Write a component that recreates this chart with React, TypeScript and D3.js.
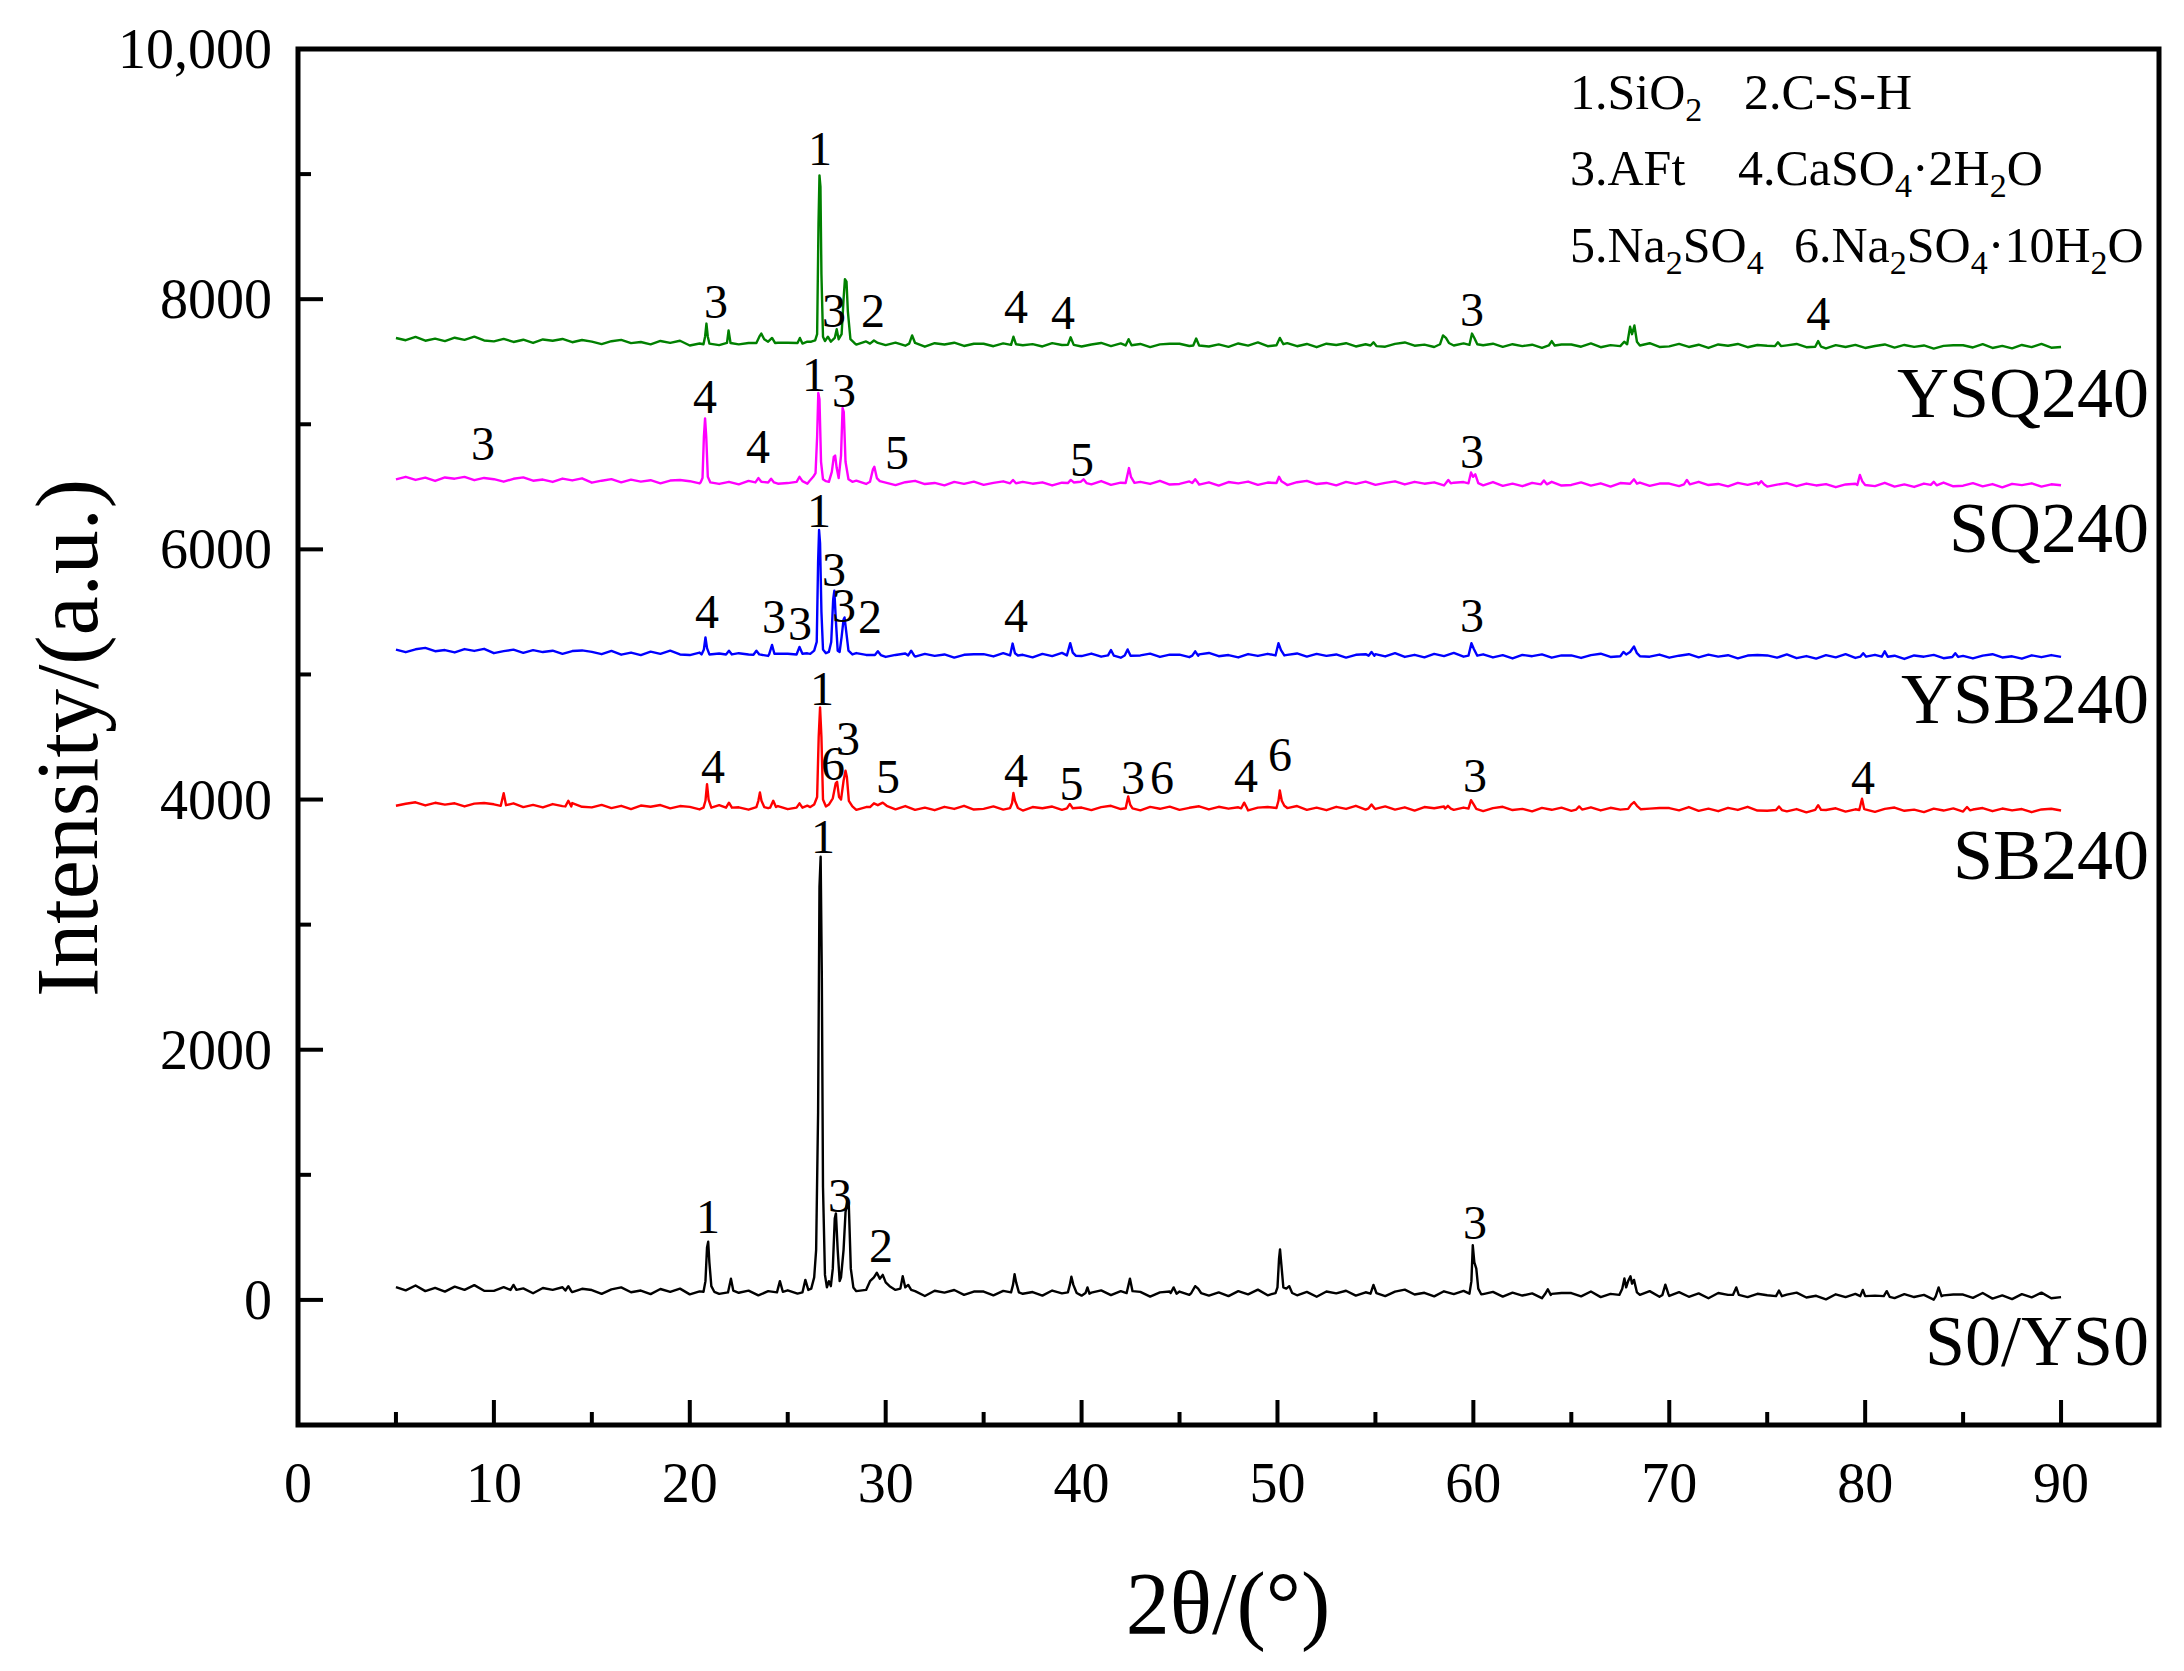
import React from "react";
import * as d3 from "d3";

const W = 2184;
const H = 1671;
const PLOT = { left: 298, right: 2159, top: 49, bottom: 1425 };
const FONT = '"Liberation Serif", "Times New Roman", Times, serif';

const X_DOMAIN = [0, 95];
const Y_DOMAIN = [-1000, 10000];
const X_MAJOR = [0, 10, 20, 30, 40, 50, 60, 70, 80, 90];
const X_MINOR = [5, 15, 25, 35, 45, 55, 65, 75, 85];
const Y_MAJOR = [0, 2000, 4000, 6000, 8000, 10000];
const Y_MINOR = [1000, 3000, 5000, 7000, 9000];

// baseline readings on a 0.5° grid from 5° to 90°
const GRID_START = 5;
const GRID_STEP = 0.5;

const ysq240Base = [
  7690, 7672, 7698, 7668, 7685, 7665, 7692, 7675, 7700, 7670,
  7663, 7683, 7658, 7676, 7650, 7678, 7668, 7682, 7656, 7674,
  7661, 7641, 7664, 7675, 7649, 7658, 7639, 7666, 7651, 7668,
  7630, 7646, 7658, 7633, 7654, 7639, 7650, 7625, 7647, 7652,
  7652, 7634, 7660, 7630, 7647, 7627, 7654, 7637, 7662, 7632,
  7633, 7653, 7628, 7646, 7620, 7648, 7638, 7652, 7626, 7644,
  7644, 7624, 7647, 7658, 7632, 7641, 7622, 7649, 7634, 7651,
  7622, 7638, 7650, 7625, 7646, 7631, 7642, 7617, 7639, 7644,
  7644, 7626, 7652, 7622, 7639, 7619, 7646, 7629, 7654, 7624,
  7629, 7649, 7624, 7642, 7616, 7644, 7634, 7648, 7622, 7640,
  7640, 7620, 7643, 7654, 7628, 7637, 7618, 7645, 7630, 7647,
  7616, 7632, 7644, 7619, 7640, 7625, 7636, 7611, 7633, 7638,
  7638, 7620, 7646, 7616, 7633, 7613, 7640, 7623, 7648, 7618,
  7623, 7643, 7618, 7636, 7610, 7638, 7628, 7642, 7616, 7634,
  7628, 7608, 7631, 7642, 7616, 7625, 7606, 7633, 7618, 7635,
  7610, 7626, 7638, 7613, 7634, 7619, 7630, 7605, 7627, 7632,
  7632, 7614, 7640, 7610, 7627, 7607, 7634, 7617, 7642, 7612,
  7618,
];
const ysq240Peaks = [
  [[20.7, 7640], [20.78, 7700], [20.85, 7805], [20.92, 7700], [21.0, 7645]],
  [[21.9, 7650], [21.98, 7750], [22.08, 7650]],
  [[23.4, 7650], [23.55, 7700], [23.65, 7725], [23.8, 7680], [24.0, 7660], [24.2, 7690], [24.35, 7650]],
  [[25.5, 7650], [25.62, 7690], [25.75, 7645]],
  [[26.2, 7660], [26.4, 7670], [26.5, 7720], [26.57, 8600], [26.62, 8990], [26.67, 8900], [26.72, 8200], [26.8, 7700], [26.9, 7665], [27.05, 7700], [27.2, 7660], [27.4, 7690], [27.5, 7760], [27.6, 7680], [27.75, 7720], [27.85, 8000], [27.92, 8160], [28.0, 8140], [28.07, 7900], [28.2, 7680], [28.4, 7650]],
  [[29.2, 7645], [29.4, 7670], [29.6, 7650]],
  [[31.2, 7645], [31.35, 7710], [31.5, 7650]],
  [[36.4, 7635], [36.52, 7700], [36.65, 7640]],
  [[39.3, 7635], [39.44, 7695], [39.6, 7635]],
  [[42.25, 7630], [42.4, 7680], [42.55, 7632]],
  [[45.7, 7630], [45.85, 7685], [46.0, 7630]],
  [[49.95, 7632], [50.12, 7690], [50.3, 7640]],
  [[54.75, 7630], [54.9, 7655], [55.05, 7625]],
  [[58.3, 7640], [58.45, 7710], [58.6, 7690], [58.75, 7650]],
  [[59.8, 7635], [59.93, 7725], [60.05, 7690], [60.2, 7640]],
  [[63.85, 7630], [64.0, 7665], [64.15, 7630]],
  [[67.5, 7625], [67.7, 7660], [67.85, 7640], [68.0, 7780], [68.1, 7720], [68.22, 7790], [68.35, 7660], [68.5, 7630]],
  [[75.4, 7625], [75.55, 7655], [75.7, 7625]],
  [[77.45, 7620], [77.6, 7665], [77.75, 7620]],
];

const sq240Base = [
  6560, 6580, 6555, 6573, 6547, 6575, 6565, 6579, 6553, 6571,
  6561, 6541, 6564, 6575, 6549, 6558, 6539, 6566, 6551, 6568,
  6533, 6549, 6561, 6536, 6557, 6542, 6553, 6528, 6550, 6555,
  6545, 6527, 6553, 6523, 6540, 6520, 6547, 6530, 6555, 6525,
  6530, 6550, 6525, 6543, 6517, 6545, 6535, 6549, 6523, 6541,
  6534, 6514, 6537, 6548, 6522, 6531, 6512, 6539, 6524, 6541,
  6516, 6532, 6544, 6519, 6540, 6525, 6536, 6511, 6533, 6538,
  6538, 6520, 6546, 6516, 6533, 6513, 6540, 6523, 6548, 6518,
  6523, 6543, 6518, 6536, 6510, 6538, 6528, 6542, 6516, 6534,
  6534, 6514, 6537, 6548, 6522, 6531, 6512, 6539, 6524, 6541,
  6516, 6532, 6544, 6519, 6540, 6525, 6536, 6511, 6533, 6538,
  6530, 6512, 6538, 6508, 6525, 6505, 6532, 6515, 6540, 6510,
  6515, 6535, 6510, 6528, 6502, 6530, 6520, 6534, 6508, 6526,
  6526, 6506, 6529, 6540, 6514, 6523, 6504, 6531, 6516, 6533,
  6502, 6518, 6530, 6505, 6526, 6511, 6522, 6497, 6519, 6524,
  6524, 6506, 6532, 6502, 6519, 6499, 6526, 6509, 6534, 6504,
  6509, 6529, 6504, 6522, 6496, 6524, 6514, 6528, 6502, 6520,
  6512,
];
const sq240Peaks = [
  [[20.55, 6535], [20.65, 6570], [20.72, 6900], [20.78, 7047], [20.84, 6900], [20.92, 6580], [21.05, 6535]],
  [[23.35, 6535], [23.5, 6570], [23.65, 6540]],
  [[24.0, 6535], [24.15, 6565], [24.3, 6535]],
  [[25.45, 6540], [25.6, 6580], [25.75, 6545]],
  [[26.1, 6545], [26.3, 6580], [26.42, 6610], [26.5, 6900], [26.56, 7250], [26.62, 7200], [26.7, 6700], [26.8, 6560], [26.95, 6545], [27.1, 6540], [27.25, 6620], [27.35, 6740], [27.42, 6750], [27.5, 6650], [27.6, 6570], [27.72, 6750], [27.8, 7130], [27.86, 7100], [27.95, 6700], [28.1, 6560], [28.3, 6540]],
  [[29.2, 6540], [29.35, 6640], [29.42, 6660], [29.55, 6570], [29.7, 6545]],
  [[36.35, 6528], [36.5, 6555], [36.65, 6528]],
  [[39.3, 6530], [39.45, 6555], [39.6, 6535], [39.95, 6540], [40.1, 6560], [40.25, 6530]],
  [[42.25, 6530], [42.35, 6600], [42.42, 6650], [42.52, 6580], [42.7, 6532]],
  [[45.65, 6530], [45.8, 6560], [45.95, 6530]],
  [[49.95, 6530], [50.08, 6580], [50.2, 6545], [50.35, 6530]],
  [[58.6, 6530], [58.72, 6555], [58.85, 6528]],
  [[59.75, 6528], [59.88, 6615], [59.98, 6580], [60.1, 6600], [60.25, 6530]],
  [[63.45, 6520], [63.6, 6550], [63.75, 6520]],
  [[68.0, 6525], [68.2, 6560], [68.35, 6525]],
  [[70.75, 6520], [70.9, 6555], [71.05, 6520]],
  [[74.55, 6520], [74.7, 6545], [74.85, 6518]],
  [[79.6, 6515], [79.73, 6595], [79.85, 6545], [80.0, 6515]],
  [[83.35, 6515], [83.5, 6540], [83.65, 6512]],
];

const ysb240Base = [
  5198, 5178, 5201, 5212, 5186, 5195, 5176, 5203, 5188, 5205,
  5170, 5186, 5198, 5173, 5194, 5179, 5190, 5165, 5187, 5192,
  5180, 5162, 5188, 5158, 5175, 5155, 5182, 5165, 5190, 5160,
  5155, 5175, 5150, 5168, 5142, 5170, 5160, 5174, 5148, 5166,
  5166, 5146, 5169, 5180, 5154, 5163, 5144, 5171, 5156, 5173,
  5140, 5156, 5168, 5143, 5164, 5149, 5160, 5135, 5157, 5162,
  5162, 5144, 5170, 5140, 5157, 5137, 5164, 5147, 5172, 5142,
  5147, 5167, 5142, 5160, 5134, 5162, 5152, 5166, 5140, 5158,
  5158, 5138, 5161, 5172, 5146, 5155, 5136, 5163, 5148, 5165,
  5140, 5156, 5168, 5143, 5164, 5149, 5160, 5135, 5157, 5162,
  5162, 5144, 5170, 5140, 5157, 5137, 5164, 5147, 5172, 5142,
  5141, 5161, 5136, 5154, 5128, 5156, 5146, 5160, 5134, 5152,
  5152, 5132, 5155, 5166, 5140, 5149, 5130, 5157, 5142, 5159,
  5134, 5150, 5162, 5137, 5158, 5143, 5154, 5129, 5151, 5156,
  5152, 5134, 5160, 5130, 5147, 5127, 5154, 5137, 5162, 5132,
  5137, 5157, 5132, 5150, 5124, 5152, 5142, 5156, 5130, 5148,
  5148, 5128, 5151, 5162, 5136, 5145, 5126, 5153, 5138, 5155,
  5140,
];
const ysb240Peaks = [
  [[20.6, 5160], [20.72, 5200], [20.8, 5296], [20.88, 5210], [21.0, 5160]],
  [[21.85, 5160], [22.0, 5190], [22.15, 5160]],
  [[23.25, 5158], [23.4, 5190], [23.55, 5160]],
  [[24.05, 5160], [24.2, 5236], [24.32, 5165]],
  [[25.45, 5160], [25.6, 5220], [25.75, 5165]],
  [[26.15, 5165], [26.35, 5190], [26.48, 5260], [26.55, 5900], [26.6, 6155], [26.65, 6050], [26.72, 5500], [26.8, 5200], [26.95, 5170], [27.1, 5180], [27.22, 5260], [27.32, 5600], [27.38, 5670], [27.45, 5450], [27.55, 5190], [27.65, 5180], [27.75, 5300], [27.85, 5440], [27.9, 5456], [27.98, 5350], [28.1, 5190], [28.3, 5160]],
  [[29.45, 5155], [29.6, 5185], [29.75, 5155]],
  [[31.15, 5152], [31.3, 5190], [31.45, 5152]],
  [[36.35, 5152], [36.48, 5247], [36.6, 5170], [36.75, 5152]],
  [[39.25, 5152], [39.42, 5250], [39.55, 5175], [39.7, 5150]],
  [[41.35, 5152], [41.5, 5195], [41.65, 5150]],
  [[42.2, 5152], [42.35, 5200], [42.5, 5150]],
  [[45.65, 5150], [45.8, 5185], [45.95, 5150]],
  [[49.9, 5152], [50.05, 5250], [50.18, 5195], [50.35, 5152]],
  [[54.65, 5150], [54.8, 5180], [54.95, 5150]],
  [[59.75, 5150], [59.9, 5250], [60.02, 5205], [60.2, 5150]],
  [[67.5, 5146], [67.66, 5180], [67.8, 5160], [68.0, 5180], [68.2, 5224], [68.35, 5170], [68.5, 5146]],
  [[79.75, 5142], [79.9, 5170], [80.05, 5142]],
  [[80.85, 5142], [81.0, 5185], [81.15, 5142]],
  [[84.45, 5140], [84.6, 5170], [84.75, 5140]],
];

const sb240Base = [
  3950, 3966, 3978, 3953, 3974, 3959, 3970, 3945, 3967, 3972,
  3962, 3944, 3970, 3940, 3957, 3937, 3964, 3947, 3972, 3942,
  3937, 3957, 3932, 3950, 3924, 3952, 3942, 3956, 3930, 3948,
  3941, 3921, 3944, 3955, 3929, 3938, 3919, 3946, 3931, 3948,
  3923, 3939, 3951, 3926, 3947, 3932, 3943, 3918, 3940, 3945,
  3940, 3922, 3948, 3918, 3935, 3915, 3942, 3925, 3950, 3920,
  3925, 3945, 3920, 3938, 3912, 3940, 3930, 3944, 3918, 3936,
  3936, 3916, 3939, 3950, 3924, 3933, 3914, 3941, 3926, 3943,
  3918, 3934, 3946, 3921, 3942, 3927, 3938, 3913, 3935, 3940,
  3940, 3922, 3948, 3918, 3935, 3915, 3942, 3925, 3950, 3920,
  3925, 3945, 3920, 3938, 3912, 3940, 3930, 3944, 3918, 3936,
  3928, 3908, 3931, 3942, 3916, 3925, 3906, 3933, 3918, 3935,
  3910, 3926, 3938, 3913, 3934, 3919, 3930, 3905, 3927, 3932,
  3932, 3914, 3940, 3910, 3927, 3907, 3934, 3917, 3942, 3912,
  3911, 3931, 3906, 3924, 3898, 3926, 3916, 3930, 3904, 3922,
  3922, 3902, 3925, 3936, 3910, 3919, 3900, 3927, 3912, 3929,
  3904, 3920, 3932, 3907, 3928, 3913, 3924, 3899, 3921, 3926,
  3912,
];
const sb240Peaks = [
  [[10.35, 3950], [10.5, 4050], [10.62, 3955]],
  [[13.65, 3945], [13.8, 3990], [13.95, 3945]],
  [[20.7, 3935], [20.8, 3990], [20.88, 4123], [20.96, 4000], [21.1, 3935]],
  [[21.85, 3935], [22.0, 3975], [22.15, 3935]],
  [[23.4, 3940], [23.5, 3990], [23.58, 4057], [23.66, 3990], [23.8, 3940]],
  [[24.1, 3935], [24.26, 3990], [24.4, 3940]],
  [[25.45, 3935], [25.6, 3970], [25.75, 3935]],
  [[26.15, 3940], [26.35, 3960], [26.5, 4020], [26.58, 4500], [26.65, 4737], [26.72, 4500], [26.8, 4000], [26.95, 3945], [27.1, 3960], [27.3, 4010], [27.45, 4130], [27.52, 4142], [27.62, 4020], [27.72, 4000], [27.85, 4150], [27.95, 4230], [28.02, 4180], [28.12, 3990], [28.3, 3945]],
  [[29.2, 3940], [29.4, 3970], [29.6, 3955], [29.85, 3975], [30.05, 3950]],
  [[36.35, 3932], [36.45, 3970], [36.52, 4052], [36.6, 3990], [36.75, 3932]],
  [[39.25, 3930], [39.4, 3965], [39.55, 3930]],
  [[42.25, 3930], [42.38, 4024], [42.48, 3960], [42.6, 3930]],
  [[48.15, 3930], [48.3, 3975], [48.45, 3930]],
  [[49.95, 3932], [50.05, 3990], [50.12, 4073], [50.22, 3990], [50.35, 3950], [50.5, 3932]],
  [[54.65, 3930], [54.8, 3960], [54.95, 3930]],
  [[58.55, 3928], [58.7, 3950], [58.85, 3928]],
  [[59.75, 3928], [59.88, 3995], [60.0, 3965], [60.15, 3925]],
  [[65.25, 3920], [65.4, 3945], [65.55, 3920]],
  [[67.9, 3925], [68.05, 3960], [68.2, 3980], [68.35, 3950], [68.55, 3922]],
  [[75.45, 3916], [75.6, 3945], [75.75, 3916]],
  [[77.45, 3918], [77.6, 3955], [77.75, 3918]],
  [[79.7, 3916], [79.84, 4007], [79.95, 3925]],
  [[85.05, 3914], [85.2, 3940], [85.35, 3914]],
];

const s0Base = [
  103, 76, 115, 70, 96, 66, 106, 80, 118, 73,
  72, 102, 65, 92, 53, 95, 80, 101, 62, 89,
  79, 49, 84, 100, 61, 75, 46, 87, 64, 90,
  44, 68, 86, 48, 80, 57, 74, 36, 70, 77,
  77, 50, 89, 44, 70, 40, 80, 54, 92, 47,
  50, 80, 43, 70, 31, 73, 58, 79, 40, 67,
  67, 37, 72, 88, 49, 63, 34, 75, 52, 78,
  34, 58, 76, 38, 70, 47, 64, 26, 60, 67,
  67, 40, 79, 34, 60, 30, 70, 44, 82, 37,
  44, 74, 37, 64, 25, 67, 52, 73, 34, 61,
  61, 31, 66, 82, 43, 57, 28, 69, 46, 72,
  22, 46, 64, 26, 58, 35, 52, 14, 48, 55,
  55, 28, 67, 22, 48, 18, 58, 32, 70, 25,
  32, 62, 25, 52, 13, 55, 40, 61, 22, 49,
  37, 7, 42, 58, 19, 33, 4, 45, 22, 48,
  10, 34, 52, 14, 46, 23, 40, 2, 36, 43,
  43, 16, 55, 10, 36, 6, 46, 20, 58, 13,
  22,
];
const s0Peaks = [
  [[10.85, 80], [11.0, 120], [11.15, 80]],
  [[13.65, 75], [13.8, 110], [13.95, 70]],
  [[20.7, 65], [20.8, 150], [20.88, 420], [20.94, 465], [21.0, 300], [21.1, 110], [21.25, 65]],
  [[21.95, 60], [22.1, 170], [22.22, 75]],
  [[24.45, 60], [24.6, 150], [24.75, 65]],
  [[25.75, 60], [25.9, 160], [26.05, 80]],
  [[26.2, 90], [26.35, 180], [26.45, 400], [26.55, 1500], [26.62, 3300], [26.68, 3543], [26.74, 2600], [26.8, 900], [26.9, 200], [27.0, 100], [27.1, 150], [27.2, 110], [27.3, 250], [27.4, 650], [27.46, 692], [27.55, 400], [27.65, 150], [27.72, 180], [27.85, 400], [27.95, 700], [28.05, 798], [28.12, 750], [28.22, 250], [28.35, 100], [28.5, 70]],
  [[29.0, 80], [29.2, 150], [29.4, 180], [29.55, 217], [29.7, 170], [29.85, 200], [30.0, 140], [30.2, 110]],
  [[30.75, 90], [30.87, 189], [31.0, 100], [31.15, 120], [31.3, 80]],
  [[36.4, 60], [36.5, 120], [36.58, 205], [36.66, 140], [36.8, 60]],
  [[39.3, 60], [39.4, 120], [39.48, 185], [39.58, 120], [39.75, 55]],
  [[40.2, 55], [40.3, 100], [40.4, 50]],
  [[42.3, 55], [42.47, 170], [42.6, 70]],
  [[44.55, 55], [44.7, 100], [44.85, 50]],
  [[45.6, 55], [45.8, 110], [45.95, 90], [46.1, 55]],
  [[49.9, 55], [50.0, 100], [50.08, 330], [50.13, 404], [50.2, 280], [50.3, 100], [50.45, 90], [50.6, 110], [50.75, 55]],
  [[54.75, 50], [54.9, 120], [55.05, 55]],
  [[59.8, 50], [59.9, 150], [59.97, 437], [60.05, 300], [60.15, 250], [60.25, 90], [60.4, 45]],
  [[63.65, 45], [63.8, 85], [63.95, 40]],
  [[67.45, 40], [67.6, 90], [67.71, 171], [67.8, 100], [67.9, 150], [68.02, 189], [68.1, 130], [68.2, 160], [68.35, 60], [68.5, 40]],
  [[69.65, 40], [69.8, 122], [69.95, 50]],
  [[73.25, 40], [73.42, 100], [73.55, 40]],
  [[75.45, 30], [75.6, 75], [75.75, 30]],
  [[79.75, 30], [79.88, 80], [80.0, 30]],
  [[80.95, 30], [81.1, 70], [81.25, 25]],
  [[83.6, 28], [83.75, 100], [83.9, 30]],
];

// peak annotations: [2θ, intensity at label baseline, text]
const ysq240Marks: [number, number, string][] = [
  [21.34, 7848, "3"], [26.65, 9071, "1"], [27.36, 7776, "3"], [29.35, 7776, "2"],
  [36.65, 7808, "4"], [39.05, 7760, "4"], [59.93, 7784, "3"], [77.6, 7752, "4"],
];
const sq240Marks: [number, number, string][] = [
  [9.44, 6713, "3"], [20.78, 7089, "4"], [23.48, 6690, "4"], [26.34, 7265, "1"],
  [27.87, 7137, "3"], [30.58, 6642, "5"], [40.02, 6586, "5"], [59.93, 6650, "3"],
];
const ysb240Marks: [number, number, string][] = [
  [20.88, 5370, "4"], [24.3, 5330, "3"], [25.63, 5275, "3"], [26.6, 6178, "1"],
  [27.36, 5706, "3"], [27.87, 5418, "3"], [29.2, 5330, "2"], [36.65, 5338, "4"],
  [59.93, 5338, "3"],
];
const sb240Marks: [number, number, string][] = [
  [21.18, 4131, "4"], [26.75, 4754, "1"], [27.31, 4155, "6"], [28.08, 4355, "3"],
  [30.12, 4051, "5"], [36.65, 4099, "4"], [39.48, 3995, "5"], [42.62, 4043, "3"],
  [44.1, 4043, "6"], [48.39, 4063, "4"], [50.13, 4227, "6"], [60.08, 4063, "3"],
  [79.89, 4047, "4"],
];
const s0Marks: [number, number, string][] = [
  [20.93, 535, "1"], [26.8, 3572, "1"], [27.67, 703, "3"], [29.76, 303, "2"], [60.08, 487, "3"],
];

const SERIES_NAMES = ["YSQ240", "SQ240", "YSB240", "SB240", "S0/YS0"];
const SERIES_COLORS = ["#008000", "#ff00ff", "#0000ff", "#ff0000", "#000000"];
const SERIES_NAME_Y = [7060, 5975, 4610, 3362, -520];
const SERIES_BASES = [ysq240Base, sq240Base, ysb240Base, sb240Base, s0Base];
const SERIES_PEAKS = [ysq240Peaks, sq240Peaks, ysb240Peaks, sb240Peaks, s0Peaks];
const SERIES_MARKS = [ysq240Marks, sq240Marks, ysb240Marks, sb240Marks, s0Marks];

// legend entries: segments of [text, isSubscript]
const LEGEND_ITEMS: { x: number; y: number; parts: [string, boolean][] }[] = [
  { x: 1570, y: 109, parts: [["1.SiO", false], ["2", true]] },
  { x: 1744, y: 109, parts: [["2.C-S-H", false]] },
  { x: 1570, y: 185, parts: [["3.AFt", false]] },
  { x: 1738, y: 185, parts: [["4.CaSO", false], ["4", true], ["·2H", false], ["2", true], ["O", false]] },
  { x: 1570, y: 262, parts: [["5.Na", false], ["2", true], ["SO", false], ["4", true]] },
  { x: 1794, y: 262, parts: [["6.Na", false], ["2", true], ["SO", false], ["4", true], ["·10H", false], ["2", true], ["O", false]] },
];

function buildPoints(base: number[], peaks: number[][][]): [number, number][] {
  const pts: [number, number][] = [];
  base.forEach((v, i) => {
    const x = GRID_START + i * GRID_STEP;
    const inside = peaks.some(
      (g) => x >= g[0][0] - 0.02 && x <= g[g.length - 1][0] + 0.02
    );
    if (!inside) pts.push([x, v]);
  });
  peaks.forEach((g) => g.forEach((p) => pts.push([p[0], p[1]])));
  pts.sort((a, b) => a[0] - b[0]);
  return pts;
}

const fmtY = (v: number) => (v >= 10000 ? d3.format(",")(v) : String(v));

function LegendText({ x, y, parts }: { x: number; y: number; parts: [string, boolean][] }) {
  let prevSub = false;
  return (
    <text x={x} y={y} fontSize={50} fill="#000">
      {parts.map(([t, isSub], k) => {
        let dy = 0;
        if (isSub && !prevSub) dy = 12;
        if (!isSub && prevSub) dy = -12;
        prevSub = isSub;
        return (
          <tspan key={k} dy={dy} fontSize={isSub ? 34 : 50}>
            {t}
          </tspan>
        );
      })}
    </text>
  );
}

export default function App() {
  const x = d3.scaleLinear().domain(X_DOMAIN).range([PLOT.left, PLOT.right]);
  const y = d3.scaleLinear().domain(Y_DOMAIN).range([PLOT.bottom, PLOT.top]);
  const line = d3
    .line<[number, number]>()
    .x((d) => x(d[0]))
    .y((d) => y(d[1]));

  return (
    <svg
      width={W}
      height={H}
      style={{ position: "absolute", left: 0, top: 0, background: "#fff" }}
      fontFamily={FONT}
    >
      <rect x={0} y={0} width={W} height={H} fill="#fff" />
      {SERIES_NAMES.map((name, i) => (
        <path
          key={name}
          d={line(buildPoints(SERIES_BASES[i], SERIES_PEAKS[i])) || ""}
          fill="none"
          stroke={SERIES_COLORS[i]}
          strokeWidth={2.4}
          strokeLinejoin="round"
        />
      ))}
      {SERIES_MARKS.map((marks, i) =>
        marks.map((m, j) => (
          <text
            key={`m${i}-${j}`}
            x={x(m[0])}
            y={y(m[1])}
            fontSize={48}
            textAnchor="middle"
            fill="#000"
          >
            {m[2]}
          </text>
        ))
      )}
      {SERIES_NAMES.map((name, i) => (
        <text
          key={`n${name}`}
          x={PLOT.right - 10}
          y={y(SERIES_NAME_Y[i])}
          fontSize={72}
          textAnchor="end"
          fill="#000"
        >
          {name}
        </text>
      ))}
      {LEGEND_ITEMS.map((it, k) => (
        <LegendText key={`lg${k}`} x={it.x} y={it.y} parts={it.parts} />
      ))}
      <rect
        x={PLOT.left}
        y={PLOT.top}
        width={PLOT.right - PLOT.left}
        height={PLOT.bottom - PLOT.top}
        fill="none"
        stroke="#000"
        strokeWidth={5}
      />
      {Y_MAJOR.map((v) => (
        <g key={`ym${v}`}>
          <line x1={PLOT.left} x2={PLOT.left + 25} y1={y(v)} y2={y(v)} stroke="#000" strokeWidth={4} />
          <text x={272} y={y(v) + 19} fontSize={56} textAnchor="end" fill="#000">
            {fmtY(v)}
          </text>
        </g>
      ))}
      {Y_MINOR.map((v) => (
        <line key={`yn${v}`} x1={PLOT.left} x2={PLOT.left + 13} y1={y(v)} y2={y(v)} stroke="#000" strokeWidth={4} />
      ))}
      {X_MAJOR.map((v) => (
        <g key={`xm${v}`}>
          <line x1={x(v)} x2={x(v)} y1={PLOT.bottom} y2={PLOT.bottom - 25} stroke="#000" strokeWidth={4} />
          <text x={x(v)} y={1502} fontSize={56} textAnchor="middle" fill="#000">
            {v}
          </text>
        </g>
      ))}
      {X_MINOR.map((v) => (
        <line key={`xn${v}`} x1={x(v)} x2={x(v)} y1={PLOT.bottom} y2={PLOT.bottom - 13} stroke="#000" strokeWidth={4} />
      ))}
      <text
        transform={`translate(97, 738) rotate(-90)`}
        textAnchor="middle"
        fontSize={88}
        fill="#000"
      >
        Intensity/(a.u.)
      </text>
      <text x={1228} y={1633} textAnchor="middle" fontSize={88} fill="#000">
        2θ/(°)
      </text>
    </svg>
  );
}
